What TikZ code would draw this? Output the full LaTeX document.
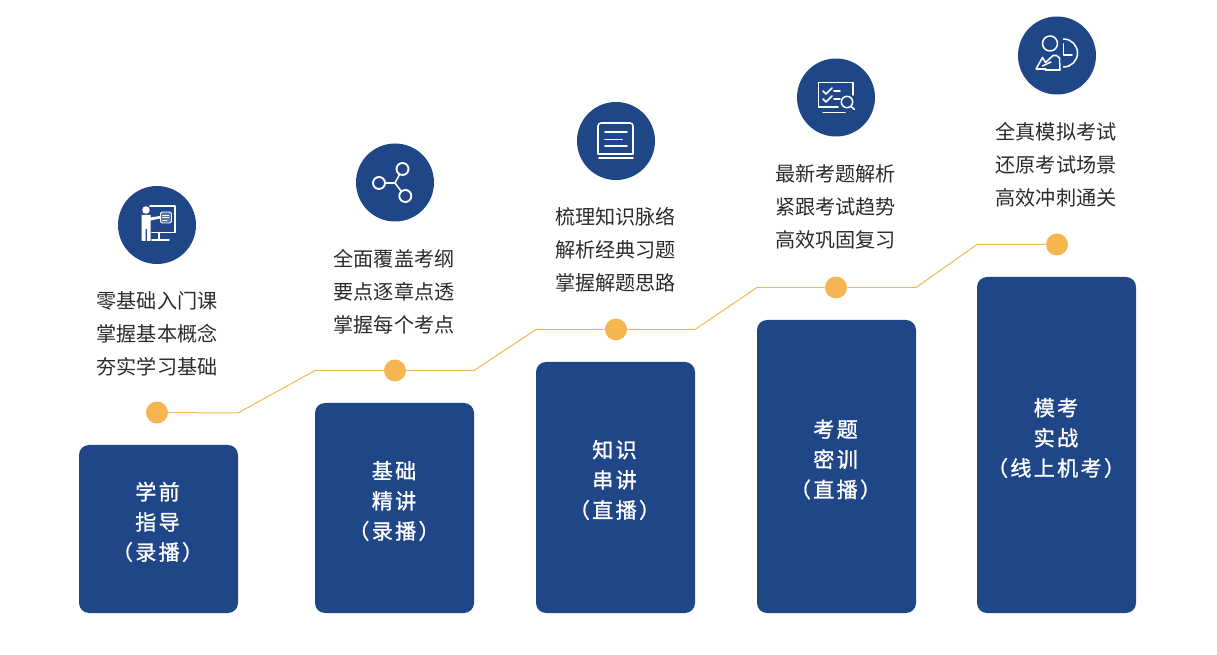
\documentclass[tikz,border=0pt]{standalone}
\usepackage{fontspec}
\setmainfont{Noto Sans CJK SC}
\newfontfamily\boxf[LetterSpace=11,FakeBold=1.2]{Noto Sans CJK SC}
\definecolor{navy}{HTML}{1F4788}
\definecolor{gold}{HTML}{F5B551}
\definecolor{ink}{HTML}{2B2B2B}
\tikzset{
  stage/.style={fill=navy,rounded corners=7.5pt,inner sep=0pt,outer sep=0pt},
  stagetext/.style={text=white,font=\boxf\fontsize{15.8pt}{22.6pt}\selectfont,align=center,inner sep=0pt},
  desc/.style={text=ink,font=\fontsize{15.1pt}{24.9pt}\selectfont,align=left,inner sep=0pt},
  dot/.style={circle,fill=gold,minimum size=16.5pt,inner sep=0pt},
  badge/.style={circle,fill=navy,minimum size=58.5pt,inner sep=0pt},
  trail/.style={draw=gold,line width=0.75pt},
  ico/.style={draw=white,line width=1.15pt,line cap=round,line join=round},
  icothin/.style={draw=white,line width=0.7pt,line cap=round,line join=round}
}
\begin{document}
\begin{tikzpicture}[x=0.75pt,y=-0.75pt]
\useasboundingbox (0,0) rectangle (1217,655);
% bars
\fill[stage] (79,445) rectangle (238,613);
\fill[stage] (315,403) rectangle (474,613);
\fill[stage] (536,362) rectangle (695,613);
\fill[stage] (757,320) rectangle (916,613);
\fill[stage] (977,277) rectangle (1136,613);
\node[stagetext] (s1) at (157.5,522) {学前\\指导\\（录播）};
\node[stagetext] (s2) at (394,501) {基础\\精讲\\（录播）};
\node[stagetext] (s3) at (614.5,480) {知识\\串讲\\（直播）};
\node[stagetext] (s4) at (835.5,459.5) {考题\\密训\\（直播）};
\node[stagetext] (s5) at (1056,438) {模考\\实战\\（线上机考）};
% trail
\node[dot] (d1) at (157,412.5) {};
\node[dot] (d2) at (395,370.5) {};
\node[dot] (d3) at (616,329.5) {};
\node[dot] (d4) at (836,287.5) {};
\node[dot] (d5) at (1057,244.5) {};
\coordinate (b1) at (238,413);
\coordinate (b2) at (315,370.5);
\coordinate (b3) at (474,370.5);
\coordinate (b4) at (536,329.5);
\coordinate (b5) at (695,329.5);
\coordinate (b6) at (757,287.5);
\coordinate (b7) at (916,287.5);
\coordinate (b8) at (977,244.5);
\draw[trail] (d1) -- (b1) -- (b2) -- (d2) -- (b3) -- (b4) -- (d3) -- (b5) -- (b6) -- (d4) -- (b7) -- (b8) -- (d5);
% descriptions
\node[desc] (t1) at (157,334) {零基础入门课\\掌握基本概念\\夯实学习基础};
\node[desc] (t2) at (394,292) {全面覆盖考纲\\要点逐章点透\\掌握每个考点};
\node[desc] (t3) at (615.5,250) {梳理知识脉络\\解析经典习题\\掌握解题思路};
\node[desc] (t4) at (835.5,207) {最新考题解析\\紧跟考试趋势\\高效巩固复习};
\node[desc] (t5) at (1056,165) {全真模拟考试\\还原考试场景\\高效冲刺通关};
% badges
\node[badge] (c1) at (157,225) {};
\node[badge] (c2) at (395,182.5) {};
\node[badge] (c3) at (616,141) {};
\node[badge] (c4) at (836,97.5) {};
\node[badge] (c5) at (1057,55.5) {};
% icon 1: teacher at board
\draw[ico] (150,206) -- (175,206) -- (175,232.5) -- (152,232.5);
\fill[white] (146,210) circle (3.8);
\fill[white] (141.5,215) -- (150.5,215) -- (150.5,217.5) -- (160,216) -- (160,218.5) -- (150.5,220.5) -- (150.5,241) -- (147,241) -- (147,229) -- (145.5,229) -- (145.5,241) -- (141.5,241) -- cycle;
\draw[ico] (159,232.5) -- (159,240);
\draw[ico] (152,240) -- (169,240);
\draw[icothin,fill=navy!75!white,rounded corners=1.5pt] (160.5,212) rectangle (171.5,223);
\draw[icothin] (162.5,215) -- (169,215) (162.5,217.5) -- (169,217.5) (162.5,220) -- (167,220);
% icon 2: nodes
\draw[ico] (385,183) -- (395,183) -- (399.5,174.5) (395,183) -- (401,191);
\draw[ico,line width=1.4pt] (379,183) circle (6) (402.5,169) circle (6) (405.3,196) circle (6);
% icon 3: book
\draw[ico] (598,154) -- (598,126) arc[start angle=180,end angle=270,radius=3] -- (630,123) arc[start angle=270,end angle=360,radius=3] -- (633,154) -- cycle;
\draw[ico] (605,132) -- (627,132) (605,139.5) -- (622,139.5) (605,146) -- (627,146);
\draw[ico] (599,158) -- (633,158);
% icon 4: checklist
\draw[ico] (838,107) -- (818.5,107) -- (818.5,82.5) -- (853,82.5) -- (853,95);
\draw[ico] (823,112.5) -- (845,112.5);
\draw[ico] (823,91) -- (826,94) -- (832,88) (823,99) -- (826,102) -- (832,96);
\draw[ico] (834,91) -- (840,91) (834,99) -- (840,99);
\draw[ico,fill=navy] (847,102) circle (5.7);
\draw[ico] (851,106.5) -- (854.5,109.5);
% icon 5: person and chart
\draw[ico] (1050,43.5) circle (7.5);
\draw[ico] (1063.5,39) arc[start angle=-90,end angle=90,radius=14];
\draw[ico] (1063.5,44) -- (1063.5,55) -- (1072,55);
\draw[ico] (1036,69) -- (1042.5,57.5) -- (1045.5,62.5) -- (1053,55.5) -- (1056.5,55.5) -- (1059.5,58) -- (1060,70) -- (1045,70) (1036,69) -- (1046,69);
\draw[ico] (1042.5,66) -- (1051,62);
\end{tikzpicture}
\end{document}
